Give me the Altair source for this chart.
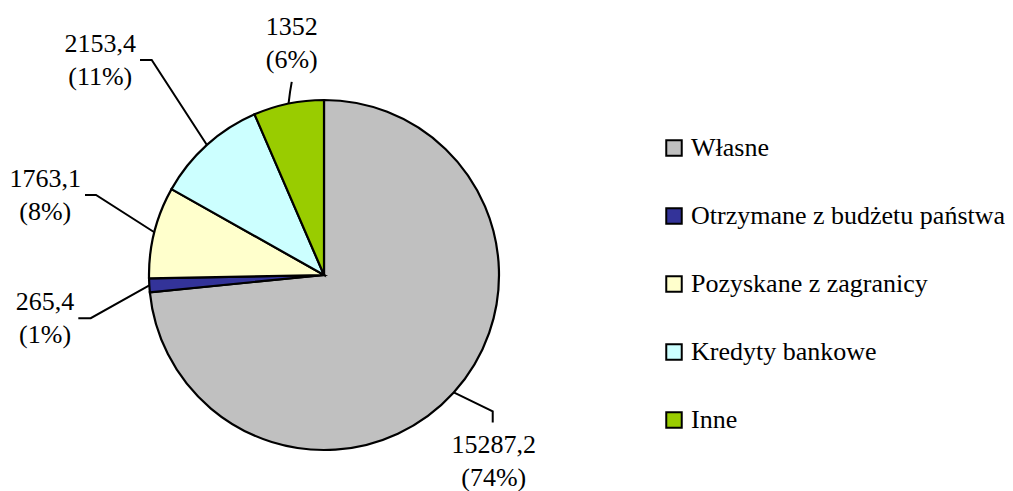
import altair as alt
import pandas as pd
import numpy as np

# ---- data ----
categories = ["Własne", "Otrzymane z budżetu państwa", "Pozyskane z zagranicy",
              "Kredyty bankowe", "Inne"]
values = [15287.2, 265.4, 1763.1, 2153.4, 1352.0]
value_labels = ["15287,2", "265,4", "1763,1", "2153,4", "1352"]
percent_labels = ["(74%)", "(1%)", "(8%)", "(11%)", "(6%)"]
colors = ["#C0C0C0", "#333399", "#FFFFCC", "#CCFFFF", "#99CC00"]

# ---- layout ----
W, H = 997, 483          # plot area (page minus 8px margins)
CX, CY, R = 316, 267, 175
FS, LH = 26, 33
FONT = "Liberation Serif"

# leader lines of the manually placed labels: edge -> elbow -> tail
elbow = [(39, 19), (-58.6, 32.9), (-58.3, -37.2), (-55.2, -85), (1.5, -11.7)]
tail = [(0, 11), (-12.4, 0), (-11, 0), (-11.7, 0), (1.7, -10)]
side = ["below", "left", "left", "left", "above"]

vals = np.array(values)
total = vals.sum()
mid_frac = (np.cumsum(vals) - vals / 2) / total
ang = 2 * np.pi * mid_frac

pie_df = pd.DataFrame({"category": categories, "value": values,
                       "idx": list(range(len(values)))})

line_rows, text_rows = [], []
for i, a in enumerate(ang):
    p0 = (CX + R * np.sin(a), CY - R * np.cos(a))
    p1 = (p0[0] + elbow[i][0], p0[1] + elbow[i][1])
    p2 = (p1[0] + tail[i][0], p1[1] + tail[i][1])
    for k, p in enumerate((p0, p1, p2)):
        line_rows.append({"slice": i, "k": k, "x": p[0], "y": p[1]})
    s = value_labels[i]
    tw = sum(0.5 if c.isdigit() else 0.25 for c in s) * FS
    if side[i] == "left":
        tx, ty = p2[0] - 4 - tw / 2, p2[1] - 8
    elif side[i] == "below":
        tx, ty = p2[0] + 1, p2[1] + 31
    else:
        tx, ty = p2[0], p2[1] - 47
    text_rows.append({"x": tx, "y": ty, "label": s + "\n" + percent_labels[i]})

line_df = pd.DataFrame(line_rows)
text_df = pd.DataFrame(text_rows)

xs = alt.Scale(domain=[0, W], nice=False, zero=False)
ys = alt.Scale(domain=[0, H], nice=False, zero=False, reverse=True)

arc = alt.Chart(pie_df).mark_arc(outerRadius=R, stroke="black", strokeWidth=2.2).encode(
    theta=alt.Theta("value:Q", stack=True),
    color=alt.Color(
        "category:N",
        scale=alt.Scale(domain=categories, range=colors),
        legend=alt.Legend(
            title=None, orient="none", legendX=653, legendY=127, padding=0,
            symbolType="square", symbolSize=240, symbolStrokeColor="black",
            symbolStrokeWidth=2, labelFont=FONT, labelFontSize=FS,
            labelColor="black", rowPadding=42, labelOffset=4, labelLimit=500,
        ),
    ),
    order=alt.Order("idx:Q"),
    x=alt.value(CX),
    y=alt.value(CY),
)

lines = alt.Chart(line_df).mark_line(color="black", strokeWidth=2).encode(
    x=alt.X("x:Q", scale=xs, axis=None),
    y=alt.Y("y:Q", scale=ys, axis=None),
    detail="slice:N",
    order="k:Q",
)

texts = alt.Chart(text_df).mark_text(
    font=FONT, fontSize=FS, align="center", baseline="alphabetic",
    lineBreak="\n", lineHeight=LH, color="black",
).encode(
    x=alt.X("x:Q", scale=xs, axis=None),
    y=alt.Y("y:Q", scale=ys, axis=None),
    text="label:N",
)

chart = alt.layer(arc, lines, texts).properties(
    width=W, height=H, padding=0, autosize="none", background="white"
).configure_view(stroke=None)

chart.save("out.html", embed_options={"renderer": "svg", "actions": False})
